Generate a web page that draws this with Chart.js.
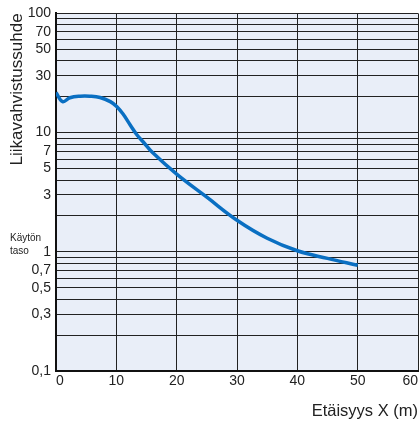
<!DOCTYPE html>
<html>
<head>
<meta charset="utf-8">
<script src="https://cdn.jsdelivr.net/npm/chart.js@4.4.1/dist/chart.umd.min.js"></script>
<style>
  body { margin: 0; background: #fff; }
</style>
</head>
<body>
<canvas id="chart" width="420" height="421"></canvas>
<script>
// Data
const distance = [0, 1.1, 2.3, 4, 5.6, 7.3, 9, 10.1, 11.2, 12.3, 13.4, 14.5, 16, 20, 25, 30, 35, 40, 45, 50];
const ratio = [21.7, 18.2, 19.6, 20.2, 20.2, 19.7, 18.2, 16.5, 14.1, 11.6, 9.6, 8.3, 6.8, 4.48, 2.87, 1.84, 1.3, 1.02, 0.88, 0.77];

// Labelled ticks on the log axis (others are gridlines only)
const yTickLabels = [0.1, 0.3, 0.5, 0.7, 1, 3, 5, 7, 10, 30, 50, 70, 100];
const xTicks = [0, 10, 20, 30, 40, 50, 60];
const levelText = ['Käytön', 'taso'];
const levelValue = 1;

// gridlines at every 1..9 step of each decade
const yGrid = [];
[0.1, 1, 10].forEach(d => {
    for (let k = 1; k <= 9; k++) yGrid.push(+(k * d).toPrecision(3));
});
yGrid.push(100);

// light blue plot background + "Käytön taso" note
const plotBg = {
    id: 'plotBg',
    beforeDraw(chart) {
        const { ctx, chartArea: a } = chart;
        ctx.save();
        ctx.fillStyle = '#e9eef8';
        ctx.fillRect(a.left, a.top, a.right - a.left, a.bottom - a.top);
        ctx.restore();
    },
    afterDraw(chart) {
        const { ctx } = chart;
        const y = chart.scales.y.getPixelForValue(levelValue);
        ctx.save();
        ctx.fillStyle = '#222';
        ctx.font = '10px "Liberation Sans", Arial, sans-serif';
        ctx.textBaseline = 'middle';
        ctx.fillText(levelText[0], 10, y - 14);
        ctx.fillText(levelText[1], 10, y - 1);
        ctx.restore();
    }
};

const ctx = document.getElementById('chart').getContext('2d');
const chart = new Chart(ctx, {
    type: 'line',
    data: {
        datasets: [{
            data: distance.map((x, i) => ({ x: x, y: ratio[i] })),
            borderColor: '#0a6fc2',
            borderWidth: 3.5,
            pointRadius: 0,
            tension: 0.4,
            fill: false
        }]
    },
    options: {
        responsive: false,
        animation: false,
        devicePixelRatio: 1,
        layout: { padding: { top: 9, right: 2, left: 0, bottom: 0 } },
        plugins: { legend: { display: false }, tooltip: { enabled: false } },
        scales: {
            x: {
                type: 'linear',
                min: 0,
                max: 60,
                afterBuildTicks: s => { s.ticks = xTicks.map(v => ({ value: v })); },
                afterFit: s => { s.height = 50; },
                grid: { color: '#222', lineWidth: 1, drawTicks: false },
                border: { color: '#111', width: 2 },
                ticks: {
                    padding: 2,
                    align: 'inner',
                    color: '#222',
                    font: { family: '"Liberation Sans", Arial, sans-serif', size: 14 }
                },
                title: {
                    display: true,
                    text: 'Etäisyys X (m)',
                    align: 'end',
                    color: '#222',
                    padding: { top: 0, bottom: 0 },
                    font: { family: '"Liberation Sans", Arial, sans-serif', size: 16.5 }
                }
            },
            y: {
                type: 'logarithmic',
                min: 0.1,
                max: 100,
                afterBuildTicks: s => { s.ticks = yGrid.map(v => ({ value: v })); },
                afterFit: s => { s.width = 56; },
                grid: { color: '#222', lineWidth: 1, drawTicks: false },
                border: { color: '#111', width: 2 },
                ticks: {
                    autoSkip: false,
                    padding: 5,
                    color: '#222',
                    font: { family: '"Liberation Sans", Arial, sans-serif', size: 14 },
                    callback: v => yTickLabels.includes(v) ? String(v).replace('.', ',') : ''
                },
                title: {
                    display: true,
                    text: 'Liikavahvistussuhde',
                    align: 'end',
                    color: '#222',
                    padding: { top: 7, bottom: 0 },
                    font: { family: '"Liberation Sans", Arial, sans-serif', size: 17 }
                }
            }
        }
    },
    plugins: [plotBg]
});
</script>
</body>
</html>
